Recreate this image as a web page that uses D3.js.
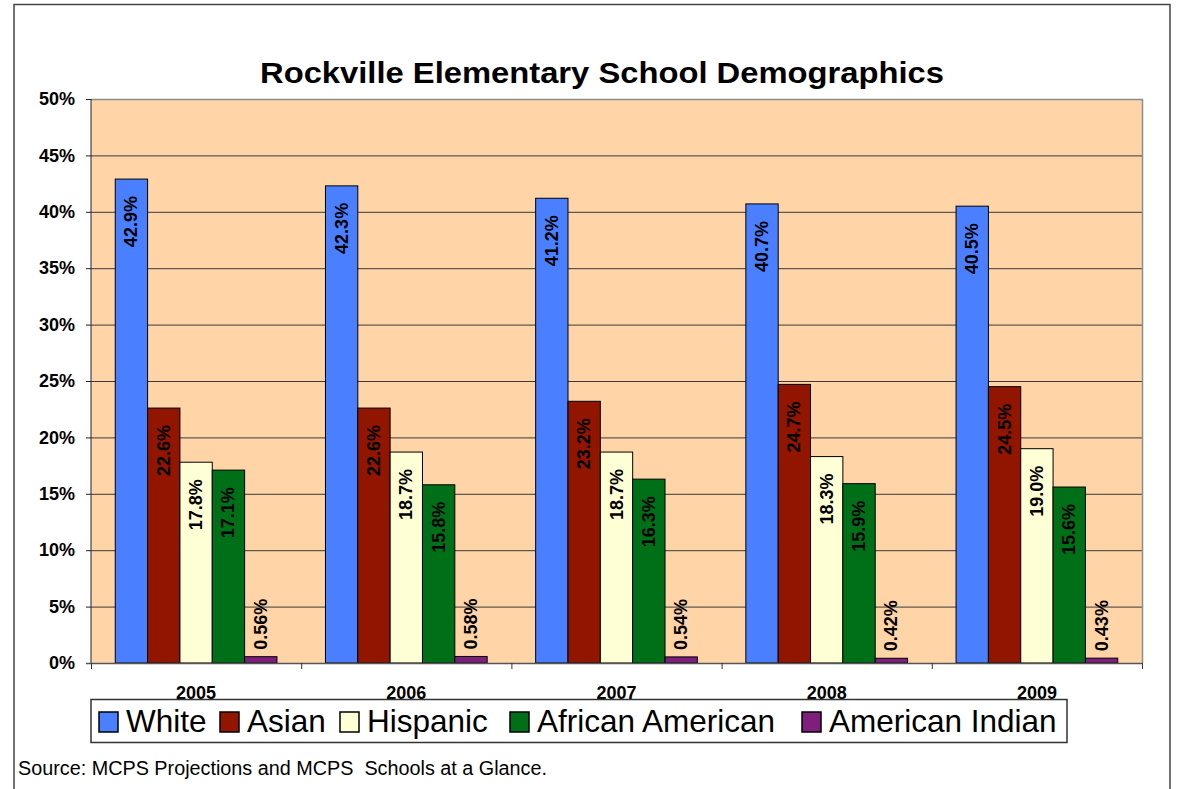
<!DOCTYPE html>
<html>
<head>
<meta charset="utf-8">
<script src="https://cdn.jsdelivr.net/npm/d3@7"></script>
<style>
  html, body { margin: 0; padding: 0; background: #fff; }
  svg { display: block; font-family: "Liberation Sans", Arial, sans-serif; }
</style>
</head>
<body>
<svg id="chart" width="1177" height="789"></svg>
<script>
// School years and demographic groups
const years = ["2005", "2006", "2007", "2008", "2009"];
const groups = ["White", "Asian", "Hispanic", "African American", "American Indian"];

// Share of enrolment (percent) per group, one value per year
const white = [42.9, 42.3, 41.2, 40.7, 40.5];
const asian = [22.6, 22.6, 23.2, 24.7, 24.5];
const hispanic = [17.8, 18.7, 18.7, 18.3, 19.0];
const africanAmerican = [17.1, 15.8, 16.3, 15.9, 15.6];
const americanIndian = [0.56, 0.58, 0.54, 0.42, 0.43];

// Decimals shown in each group's value labels
const labelDecimals = [1, 1, 1, 1, 2];

// Y axis tick values
const yTicks = [0, 5, 10, 15, 20, 25, 30, 35, 40, 45, 50];

const groupValues = [white, asian, hispanic, africanAmerican, americanIndian];
const colors = ["#4A80FF", "#921500", "#FFFFD6", "#007018", "#7E1F7E"];

const svg = d3.select("#chart");

// Frame around the whole chart
svg.append("path")
  .attr("d", "M14,800 L14,4.5 L1170,4.5 L1170,800")
  .attr("fill", "none").attr("stroke", "#444").attr("stroke-width", 1.5);

const plot = { left: 91, top: 99, right: 1142, bottom: 663 };

const y = d3.scaleLinear().domain([0, 50]).range([plot.bottom, plot.top]);
const x0 = d3.scaleBand().domain(years).range([plot.left, plot.right]);
const x1 = d3.scaleBand().domain(groups).range([0, x0.bandwidth()]).paddingOuter(0.75);

// Plot background
svg.append("rect")
  .attr("x", plot.left).attr("y", plot.top)
  .attr("width", plot.right - plot.left).attr("height", plot.bottom - plot.top)
  .attr("fill", "#FFD4A7");

// Horizontal gridlines
svg.append("g")
  .attr("transform", `translate(${plot.left},0)`)
  .call(d3.axisLeft(y).tickValues(yTicks.filter(t => t > 0 && t < 50)).tickSize(-(plot.right - plot.left)).tickFormat(""))
  .call(g => g.select(".domain").remove())
  .call(g => g.selectAll("line").attr("stroke", "#3a3a3a").attr("stroke-width", 1));

// Plot-area border (top and right)
svg.append("path")
  .attr("d", `M${plot.left},${plot.top + 0.5} L${plot.right + 0.5},${plot.top + 0.5} L${plot.right + 0.5},${plot.bottom}`)
  .attr("fill", "none").attr("stroke", "#8c8c8c").attr("stroke-width", 1.5);

// Bars
const rows = years.map((yr, i) => ({ year: yr, items: groups.map((g, k) => ({ group: g, k, value: groupValues[k][i] })) }));

const yearG = svg.selectAll("g.year").data(rows).join("g")
  .attr("class", "year")
  .attr("transform", d => `translate(${x0(d.year)},0)`);

yearG.selectAll("rect").data(d => d.items).join("rect")
  .attr("x", d => x1(d.group))
  .attr("y", d => y(d.value))
  .attr("width", x1.bandwidth())
  .attr("height", d => y(0) - y(d.value))
  .attr("fill", d => colors[d.k])
  .attr("stroke", "#000").attr("stroke-width", 1);

// Value labels, rotated; inside the bar top, or just above short bars
yearG.selectAll("text.val").data(d => d.items).join("text")
  .attr("class", "val")
  .attr("transform", d => {
    const cx = x1(d.group) + x1.bandwidth() / 2;
    const inside = d.value > 5;
    const yy = inside ? y(d.value) + 17 : y(d.value) - 7;
    return `translate(${cx},${yy}) rotate(-90)`;
  })
  .attr("text-anchor", d => d.value > 5 ? "end" : "start")
  .attr("dominant-baseline", "central")
  .attr("font-size", 18).attr("font-weight", "bold").attr("fill", "#000")
  .text(d => d.value.toFixed(labelDecimals[d.k]) + "%");

// Y axis
svg.append("g")
  .attr("transform", `translate(${plot.left},0)`)
  .call(d3.axisLeft(y).tickValues(yTicks).tickSize(5).tickPadding(11).tickFormat(d => d + "%"))
  .call(g => g.select(".domain").attr("stroke", "#222").attr("d", `M0,${plot.top}V${plot.bottom}`))
  .call(g => g.selectAll("line").attr("stroke", "#222"))
  .call(g => g.selectAll("text").attr("font-size", 18).attr("font-weight", "bold").attr("fill", "#000")
    .attr("font-family", "Liberation Sans, Arial, sans-serif"));

// X axis line and category boundary ticks
svg.append("line")
  .attr("x1", plot.left - 5).attr("x2", plot.right)
  .attr("y1", plot.bottom + 0.5).attr("y2", plot.bottom + 0.5)
  .attr("stroke", "#555").attr("stroke-width", 1.5);
const bounds = years.map(yr => x0(yr)).concat([plot.right]);
svg.selectAll("line.xtick").data(bounds).join("line")
  .attr("class", "xtick")
  .attr("x1", d => d + 0.5).attr("x2", d => d + 0.5)
  .attr("y1", plot.bottom).attr("y2", plot.bottom + 6)
  .attr("stroke", "#333");

svg.selectAll("text.xlab").data(years).join("text")
  .attr("class", "xlab")
  .attr("x", d => x0(d) + x0.bandwidth() / 2)
  .attr("y", 699)
  .attr("text-anchor", "middle")
  .attr("font-size", 18).attr("font-weight", "bold")
  .text(d => d);

// Title
svg.append("text")
  .attr("x", 260).attr("y", 83)
  .attr("font-size", 29).attr("font-weight", "bold")
  .attr("textLength", 684).attr("lengthAdjust", "spacingAndGlyphs")
  .text("Rockville Elementary School Demographics");

// Legend: entry positions along the box
const legendX = [99, 220, 340, 510, 802];
const legend = svg.append("g");
legend.append("rect")
  .attr("x", 91).attr("y", 699.5).attr("width", 976).attr("height", 43)
  .attr("fill", "#fff").attr("stroke", "#333").attr("stroke-width", 1.5);
groups.forEach((g, k) => {
  legend.append("rect")
    .attr("x", legendX[k]).attr("y", 712).attr("width", 19).attr("height", 20)
    .attr("fill", colors[k]).attr("stroke", "#000").attr("stroke-width", 1.5);
  legend.append("text")
    .attr("x", legendX[k] + 27).attr("y", 732)
    .attr("font-size", 31.5)
    .text(g);
});

// Source note
svg.append("text")
  .attr("x", 18).attr("y", 775)
  .attr("font-size", 19.5)
  .attr("textLength", 529).attr("lengthAdjust", "spacingAndGlyphs")
  .text("Source: MCPS Projections and MCPS\u00a0 Schools at a Glance.");
</script>
</body>
</html>
